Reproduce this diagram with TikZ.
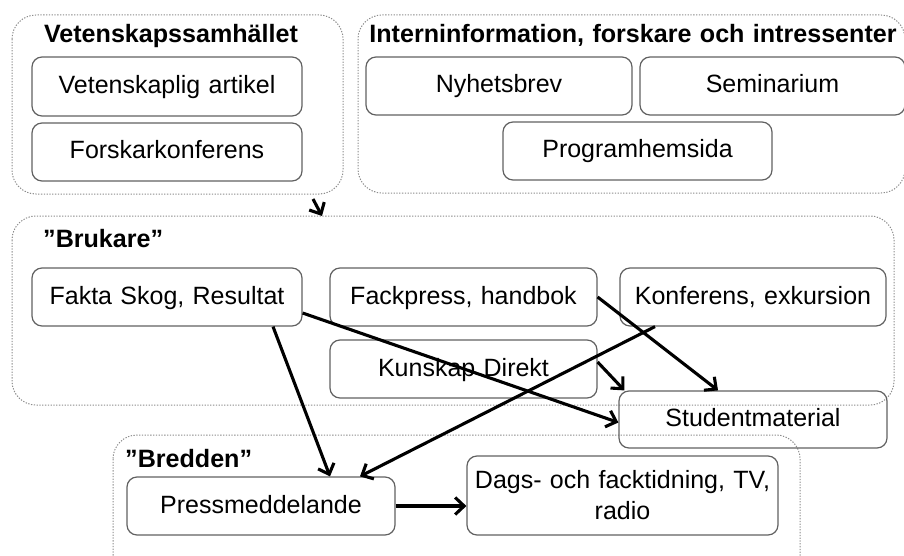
\documentclass[tikz,border=0pt]{standalone}
\usepackage{fontspec}
\setmainfont[WordSpace={1.2,1,1}]{Liberation Sans}
\usetikzlibrary{arrows.meta}
\tikzset{
  grp/.style={draw=black!45, line width=1pt, dash pattern=on 1.3pt off 1.5pt, rounded corners=24pt},
  itembase/.style={draw=black!62, line width=1.2pt, rounded corners=10pt, inner sep=0pt,
    font=\fontsize{25}{31}\selectfont},
  itembox/.style={itembase, text height=18pt, text depth=4pt},
  grptitle/.style={inner sep=0pt, font=\bfseries\fontsize{25.1}{28}\selectfont},
  arr/.style={draw=black, line width=3.1pt, -{Straight Barb[length=9pt,width=17pt]}}
}
\begin{document}
\begin{tikzpicture}[x=1pt,y=-1pt]
\useasboundingbox (0,0) rectangle (904,556);
\clip (0,0) rectangle (904,556);
% groups
\draw[grp] (12,15) rectangle (343,194);
\draw[grp] (358,15) rectangle (905,193);
\draw[grp] (12,216) rectangle (894,405);
\draw[grp] (113,435) rectangle (800,590);
% titles
\node[grptitle] (t1) at (171,36) {Vetenskapssamhället};
\node[grptitle] (t2) at (633,35) {Interninformation, forskare och intressenter};
\node[grptitle, anchor=west] (t3) at (43,239) {”Brukare”};
\node[grptitle, anchor=west] (t4) at (125,459) {”Bredden”};
% boxes
\node[itembox, minimum width=270pt, minimum height=59pt] (va) at (167,86.5) {Vetenskaplig artikel};
\node[itembox, minimum width=270pt, minimum height=58pt] (fk) at (167,152) {Forskarkonferens};
\node[itembox, minimum width=266pt, minimum height=58pt] (ny) at (499,86) {Nyhetsbrev};
\node[itembox, minimum width=265pt, minimum height=58pt] (se) at (772.5,86) {Seminarium};
\node[itembox, minimum width=269pt, minimum height=58pt] (ph) at (637.5,151) {Programhemsida};
\node[itembox, minimum width=270pt, minimum height=58pt] (fs) at (167,297) {Fakta Skog, Resultat};
\node[itembox, minimum width=267pt, minimum height=58pt] (fp) at (463.5,297) {Fackpress, handbok};
\node[itembox, minimum width=266pt, minimum height=58pt] (ke) at (753,297) {Konferens, exkursion};
\node[itembox, minimum width=267pt, minimum height=58pt] (kd) at (463.5,369) {Kunskap Direkt};
\node[itembox, minimum width=268pt, minimum height=57pt] (sm) at (753,419.5) {Studentmaterial};
\node[itembox, minimum width=268pt, minimum height=58pt] (pm) at (261,506) {Pressmeddelande};
\node[itembase, align=center, minimum width=311pt, minimum height=79pt] (dt) at (622.5,495.5) {Dags- och facktidning, TV,\\radio};
% connector ends
\coordinate (g1out) at (313,199);
\coordinate (g3in) at (322,216);
% arrows
\draw[arr] (g1out) -- (g3in);
\draw[arr] ([yshift=-16pt]fs.east) -- ([yshift=-3pt]sm.west);
\draw[arr] ([xshift=106pt]fs.south) -- ([xshift=69pt]pm.north);
\draw[arr] (fp.east) -- ([xshift=-35pt]sm.north);
\draw[arr] ([xshift=-98pt]ke.south) -- ([xshift=99pt]pm.north);
\draw[arr] ([yshift=7pt]kd.east) -- ([xshift=6pt]sm.north west);
\draw[arr] (pm.east) -- (pm.east -| dt.west);
\end{tikzpicture}
\end{document}
